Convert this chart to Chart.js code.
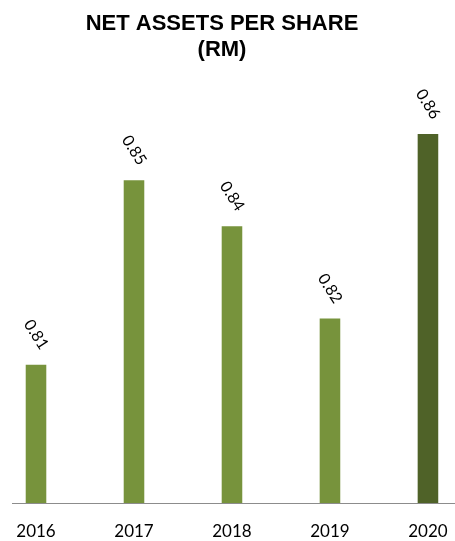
<!DOCTYPE html>
<html>
<head>
<meta charset="utf-8">
<script src="https://cdn.jsdelivr.net/npm/chart.js@4.4.1/dist/chart.umd.min.js"></script>
<style>
  html, body { margin: 0; padding: 0; background: #fff; }
  #wrap { width: 455px; height: 541px; position: relative; }
</style>
</head>
<body>
<div id="wrap"><canvas id="navChart"></canvas></div>
<script>
const years = ['2016', '2017', '2018', '2019', '2020'];
const navPerShare = [0.81, 0.85, 0.84, 0.82, 0.86];
const barColors = ['#77933c', '#77933c', '#77933c', '#77933c', '#4f6228'];
const titleLines = ['NET ASSETS PER SHARE', '(RM)'];

// two-line bold heading above the plot
const headline = {
    id: 'headline',
    afterDraw(chart) {
        const c = chart.ctx;
        c.save();
        c.font = 'bold 22px "Liberation Sans", Arial, sans-serif';
        c.fillStyle = '#000';
        c.textAlign = 'center';
        c.textBaseline = 'middle';
        titleLines.forEach((t, i) => c.fillText(t, 222, 24 + i * 26));
        c.restore();
    }
};

// rotated value above each bar
const valueLabels = {
    id: 'valueLabels',
    afterDatasetsDraw(chart) {
        const c = chart.ctx;
        const meta = chart.getDatasetMeta(0);
        c.save();
        c.font = '16px Lato, sans-serif';
        c.fillStyle = '#000';
        c.textAlign = 'center';
        c.textBaseline = 'middle';
        meta.data.forEach((bar, i) => {
            c.save();
            c.translate(bar.x, bar.y - 30);
            c.rotate(Math.PI * 0.32);
            c.fillText(navPerShare[i].toFixed(2), 0, 0);
            c.restore();
        });
        c.restore();
    }
};

new Chart(document.getElementById('navChart'), {
    type: 'bar',
    data: {
        datasets: [{
            data: navPerShare.map((v, i) => ({ x: i, y: v })),
            backgroundColor: barColors,
            barPercentage: 1,
            categoryPercentage: 0.21
        }]
    },
    options: {
        responsive: true,
        maintainAspectRatio: false,
        animation: false,
        layout: { padding: { top: 88, left: 12, right: 0, bottom: 0 } },
        plugins: {
            legend: { display: false },
            tooltip: { enabled: false }
        },
        scales: {
            x: {
                type: 'linear',
                offset: false,
                min: -0.245,
                max: 4.276,
                grid: { display: false, drawTicks: false },
                border: { display: true, color: '#8c8c8c', width: 1 },
                ticks: {
                    stepSize: 1,
                    includeBounds: false,
                    autoSkip: false,
                    maxRotation: 0,
                    padding: 18,
                    color: '#000',
                    font: { family: 'Lato', size: 17 },
                    callback: v => years[v] ?? ''
                },
                afterFit(s) {
                    s.height = 38;
                    s.paddingLeft = 0;
                    s.paddingRight = 0;
                }
            },
            y: {
                display: false,
                min: 0.78,
                max: 0.87
            }
        }
    },
    plugins: [headline, valueLabels]
});
</script>
</body>
</html>
